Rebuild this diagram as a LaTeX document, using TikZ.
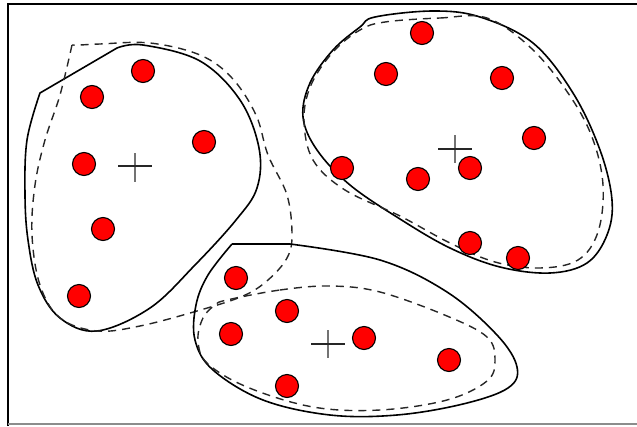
\documentclass[tikz,border=0pt]{standalone}
\begin{document}
\begin{tikzpicture}[x=1pt,y=-1pt,
  dot/.style={circle,draw=black,fill=red,line width=1.1pt,minimum size=23pt,inner sep=0pt},
  solidcurve/.style={draw=black,line width=1.6pt,line join=round},
  dashcurve/.style={draw=black!85,line width=1.4pt,dash pattern=on 8pt off 6pt},
  crossh/.style={draw=black!85,line width=1.8pt},
  crossv/.style={draw=black!55,line width=2pt}]
\useasboundingbox (0,0) rectangle (637,426);
% frame
\draw[line width=1.8pt] (8,426) -- (8,4) -- (637,4);
\draw[black!45,line width=1.6pt] (8,424) -- (637,424);

% left cluster
\draw[solidcurve] (40,93) -- (117,48) plot[smooth,tension=0.6] coordinates {(117,48) (143,45) (200,61) (240,100) (259,148) (257,188) (236,220) (195,265) (150,308) (97,331) (60,318) (38,285) (28,240) (25,195) (27,140) (40,93)};
\draw[dashcurve] plot[smooth,tension=0.6] coordinates {(72,45) (60,95) (45,140) (35,185) (32,235) (40,285) (60,318) (97,331) (140,326) (197,311) (243,296) (268,280) (287,258) (292,235) (287,195) (268,155) (256,115) (232,78) (200,55) (150,43) (100,44) (80,45) (72,45)};

% right cluster
\draw[solidcurve] plot[smooth cycle,tension=0.6] coordinates {(375,17) (433,11) (480,17) (533,43) (573,93) (600,150) (612,200) (607,235) (587,263) (550,273) (500,267) (450,248) (400,219) (350,185) (317,150) (303,117) (310,83) (333,50) (360,27)};
\draw[dashcurve] plot[smooth cycle,tension=0.6] coordinates {(385,22) (440,18) (487,18) (531,48) (568,93) (592,137) (603,185) (598,232) (578,260) (540,268) (495,262) (450,243) (400,216) (345,190) (313,160) (304,120) (311,85) (333,52) (360,30)};

% bottom cluster
\draw[solidcurve] (232,244) -- (290,244) plot[smooth,tension=0.6] coordinates {(290,244) (380,260) (447,292) (497,335) (517,367) (508,388) (463,404) (397,415) (330,415) (263,400) (213,370) (195,340) (196,305) (208,275) (232,244)};
\draw[dashcurve] plot[smooth cycle,tension=0.6] coordinates {(227,300) (280,290) (330,286) (380,292) (447,316) (487,337) (495,360) (487,381) (447,400) (380,410) (313,407) (247,387) (207,363) (198,340) (203,318) (215,305)};

% crosses
\draw[crossv] (135,153) -- (135,182);
\draw[crossh] (118,166) -- (152,166);
\draw[crossv] (455,135) -- (455,163);
\draw[crossh] (438,149) -- (472,149);
\draw[crossv] (328,330) -- (328,358);
\draw[crossh] (311,344) -- (345,344);

% points
\node[dot] (a1) at (143,71) {};
\node[dot] (a2) at (92,97) {};
\node[dot] (a3) at (204,142) {};
\node[dot] (a4) at (84,164) {};
\node[dot] (a5) at (103,229) {};
\node[dot] (a6) at (79,296) {};
\node[dot] (b1) at (422,33) {};
\node[dot] (b2) at (386,74) {};
\node[dot] (b3) at (502,78) {};
\node[dot] (b4) at (534,138) {};
\node[dot] (b5) at (342,168) {};
\node[dot] (b6) at (418,179) {};
\node[dot] (b7) at (470,168) {};
\node[dot] (b8) at (470,243) {};
\node[dot] (b9) at (518,258) {};
\node[dot] (c1) at (236,278) {};
\node[dot] (c2) at (287,311) {};
\node[dot] (c3) at (231,334) {};
\node[dot] (c4) at (364,338) {};
\node[dot] (c5) at (449,360) {};
\node[dot] (c6) at (287,386) {};
\end{tikzpicture}
\end{document}
